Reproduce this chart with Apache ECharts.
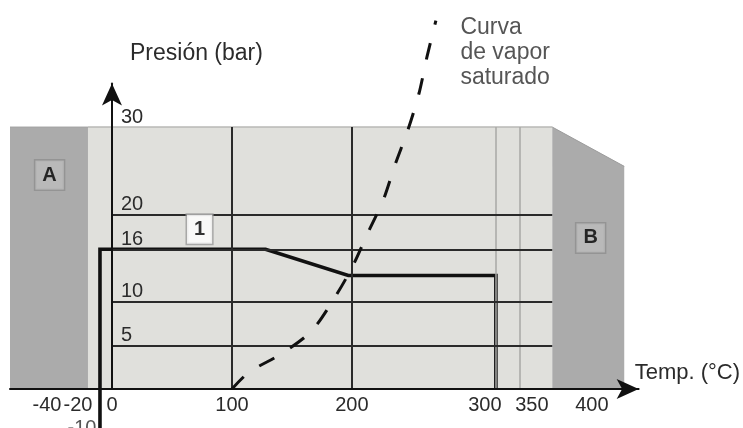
<!DOCTYPE html>
<html><head><meta charset="utf-8">
<script src="https://cdn.jsdelivr.net/npm/echarts@6/dist/echarts.min.js"></script>
<style>html,body{margin:0;padding:0;background:#fff}#c{width:743px;height:428px}</style>
</head><body><div id="c"></div>
<script>
// ---- data ----
const xTickLabels = [-40, -20, 0, 100, 200, 300, 350, 400];
const yTickLabels = [5, 10, 16, 20, 30];
const yGridValues = [5, 10, 16, 20];
const xGridDark = [100, 200];
const xGridLight = [320, 340];
const regionA = [-85, -20];
const regionMain = [-20, 367];
const regionB = [367, 427];
const regionTop = 30;
const regionBSlopeEnd = 25.5;
const envelopeT = [-10, -10, 128, 197, 320, 320];
const envelopeP = [-4.5, 16, 16, 13, 13, 0];
const vaporT = [100, 114, 142, 166, 184, 200, 213, 226, 236, 247, 256, 262.5, 270];
const vaporP = [0, 1.9, 4.1, 6.6, 10.1, 13.9, 17.8, 21.6, 25.7, 29.8, 33.9, 38, 42.2];
const gridXStart = 0;
const gridXEnd = 367;

const FONT = '"Liberation Sans", Arial, Helvetica, sans-serif';
const TXT = '#2b2b2b';

const chart = echarts.init(document.getElementById('c'), null, {renderer: 'canvas'});

const zip = (a, b) => a.map((v, i) => [v, b[i]]);

const gridLines = [];
yGridValues.forEach(v => gridLines.push([{coord: [gridXStart, v]}, {coord: [gridXEnd, v]}]));
xGridDark.forEach(v => gridLines.push([{coord: [v, 0]}, {coord: [v, regionTop]}]));
const lightLines = xGridLight.map(v => [{coord: [v, 0]}, {coord: [v, regionTop]}]);

const xLabelRich = {
  n: {fontFamily: FONT, fontSize: 20, color: TXT},
  a: {fontFamily: FONT, fontSize: 20, color: TXT, padding: [0, 34, 0, 0]},
  b: {fontFamily: FONT, fontSize: 20, color: TXT, padding: [0, 20, 0, 0]},
  c: {fontFamily: FONT, fontSize: 20, color: TXT, padding: [0, 0, 0, 26]}
};

const boxLabel = (txt, bg, border) => ({
  show: true, position: 'inside', formatter: txt,
  fontFamily: FONT, fontSize: 20, fontWeight: 'bold', color: '#000',
  backgroundColor: bg, borderColor: border, borderWidth: 1.5,
  padding: [5, 7, 4, 7]
});

const option = {
  animation: false,
  backgroundColor: '#ffffff',
  grid: {left: 10, right: 104, top: 83.4, bottom: 39, containLabel: false},
  xAxis: {
    type: 'value', min: -85, max: 439, z: 10,
    name: 'Temp. (°C)', nameLocation: 'end', nameGap: -4,
    nameTextStyle: {fontFamily: FONT, fontSize: 22, color: TXT, align: 'left',
                    verticalAlign: 'bottom', padding: [0, 0, 5, 0]},
    axisLine: {show: true, onZero: false, symbol: ['none', 'arrow'], symbolSize: [15, 22],
               lineStyle: {color: '#111', width: 2}},
    axisTick: {show: false},
    splitLine: {show: false},
    axisLabel: {
      customValues: xTickLabels, margin: 6,
      fontFamily: FONT, fontSize: 20, color: TXT,
      formatter: v => v === -40 ? '{a|-40}' : v === -20 ? '{b|-20}' : v === 300 ? '{c|300}' : '{n|' + v + '}',
      rich: xLabelRich
    }
  },
  yAxis: {
    type: 'value', min: 0, max: 35, z: 10,
    name: 'Presión (bar)', nameLocation: 'end', nameGap: 18,
    nameTextStyle: {fontFamily: FONT, fontSize: 23, color: TXT, align: 'left',
                    verticalAlign: 'bottom', padding: [0, 0, 0, 18]},
    axisLine: {show: true, onZero: true, symbol: ['none', 'arrow'], symbolSize: [15, 22],
               lineStyle: {color: '#111', width: 2}},
    axisTick: {show: false},
    splitLine: {show: false},
    axisLabel: {
      customValues: yTickLabels, inside: true, margin: 111,
      align: 'left', verticalAlign: 'bottom',
      fontFamily: FONT, fontSize: 20, color: TXT
    }
  },
  series: [
    { // region A
      type: 'line', z: 1, silent: true, showSymbol: false, symbol: 'none',
      data: regionA.map(t => [t, regionTop]),
      lineStyle: {color: '#a2a2a2', width: 1},
      areaStyle: {color: '#ababab', opacity: 1}
    },
    { // main operating area background
      type: 'line', z: 1, silent: true, showSymbol: false, symbol: 'none',
      data: regionMain.map(t => [t, regionTop]),
      lineStyle: {color: '#b8b8b6', width: 1.5},
      areaStyle: {color: '#e0e0dc', opacity: 1}
    },
    { // region B
      type: 'line', z: 1, silent: true, showSymbol: false, symbol: 'none',
      data: [[regionB[0], regionTop], [regionB[1], regionBSlopeEnd]],
      lineStyle: {color: '#9c9c9c', width: 1},
      areaStyle: {color: '#ababab', opacity: 1}
    },
    { // grid lines
      type: 'line', z: 2, silent: true, data: [],
      markLine: {silent: true, symbol: ['none', 'none'], label: {show: false},
                 lineStyle: {color: '#a8a8a6', width: 1.5, type: 'solid'}, data: lightLines}
    },
    {
      type: 'line', z: 3, silent: true, data: [],
      markLine: {silent: true, symbol: ['none', 'none'], label: {show: false},
                 lineStyle: {color: '#2a2a2a', width: 2, type: 'solid'}, data: gridLines}
    },
    { // operating envelope
      type: 'line', z: 4, clip: false, showSymbol: false, symbol: 'none',
      data: zip(envelopeT, envelopeP),
      lineStyle: {color: '#111', width: 3.6, join: 'miter'}
    },
    { // saturated vapour curve
      type: 'line', z: 5, clip: false, smooth: 0.3, showSymbol: false, symbol: 'none',
      data: zip(vaporT, vaporP),
      lineStyle: {color: '#111', width: 3, type: [17, 19], cap: 'butt'}
    },
    { // annotations
      type: 'scatter', z: 6, clip: false, symbolSize: 1, silent: true,
      itemStyle: {color: 'rgba(0,0,0,0)'},
      data: [
        {value: [-52, 24.5], label: boxLabel('A', '#bdbdbd', '#8e8e8e')},
        {value: [399, 17.3], label: boxLabel('B', '#bdbdbd', '#8e8e8e')},
        {value: [73, 18.3], label: boxLabel('1', '#ffffff', '#9a9a9a')},
        {value: [290, 38.5], label: {show: true, position: 'right', distance: 0,
          formatter: 'Curva\nde vapor\nsaturado', fontFamily: FONT, fontSize: 23,
          lineHeight: 25, color: TXT, align: 'left'}},
        {value: [envelopeT[0], envelopeP[0]], label: {show: true, position: 'left', distance: 3,
          formatter: String(envelopeT[0]), fontFamily: FONT, fontSize: 20, color: TXT}}
      ]
    }
  ]
};
chart.setOption(option);
</script>
</body></html>
